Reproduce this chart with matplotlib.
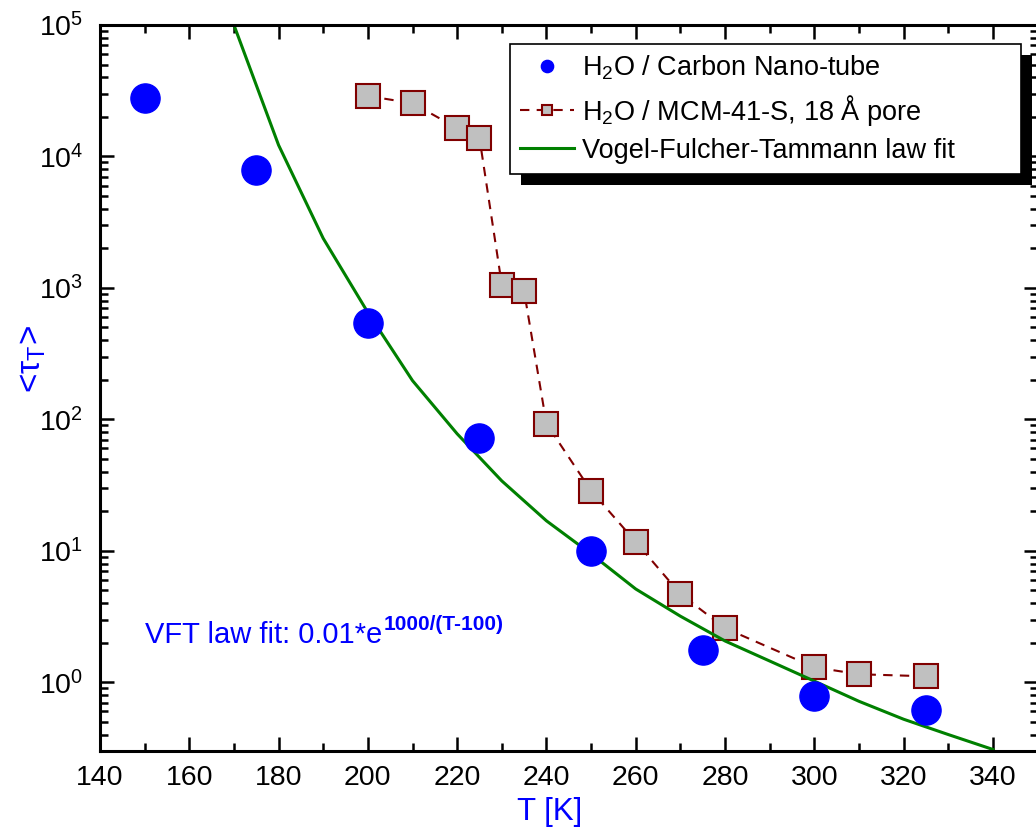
import numpy as np
import matplotlib
matplotlib.use('Agg')
import matplotlib.pyplot as plt
from matplotlib.patches import Rectangle
from matplotlib.ticker import MultipleLocator, LogLocator
from matplotlib.transforms import offset_copy

plt.rcParams['font.family'] = ['Liberation Sans', 'DejaVu Sans']
plt.rcParams['mathtext.fontset'] = 'custom'
plt.rcParams['mathtext.rm'] = 'Liberation Sans'
plt.rcParams['mathtext.it'] = 'Liberation Sans:italic'
plt.rcParams['mathtext.bf'] = 'Liberation Sans:bold'

# H2O in carbon nano-tube
T_cnt = [150, 175, 200, 225, 250, 275, 300, 325]
tau_cnt = [27800, 7850, 536, 72.4, 10.0, 1.75, 0.78, 0.62]

# H2O in MCM-41-S, 18 A pore
T_mcm = [200, 210, 220, 225, 230, 235, 240, 250, 260, 270, 280, 300, 310, 325]
tau_mcm = [28800, 25400, 16400, 13800, 1060, 940, 92.7, 28.6, 11.7, 4.69, 2.58, 1.30, 1.15, 1.11]

# VFT fit curve as drawn
T_fit = [170, 180, 190, 200, 210, 220, 230, 240, 250, 260, 270, 280, 290, 300, 310, 320, 330, 340]
tau_fit = [100000, 12200, 2380, 650, 197, 77.6, 34, 16.9, 9.47, 5.12, 3.18, 2.06, 1.45, 1.02,
           0.716, 0.523, 0.40, 0.308]

fig = plt.figure(figsize=(10.36, 8.32), dpi=100)
ax = fig.add_axes([0.0965, 0.0974, 0.905, 0.8726])

ax.plot(T_cnt, tau_cnt, 'o', color='blue', markersize=21, zorder=3,
        label=r'H$_2$O / Carbon Nano-tube')
ax.plot(T_mcm, tau_mcm, 's', linestyle='--', color='#800000', markerfacecolor='#c0c0c0',
        markeredgecolor='#800000', markersize=17, markeredgewidth=1.5, linewidth=1.5,
        dashes=(4.5, 3.5), zorder=2, label=r'H$_2$O / MCM-41-S, 18 Å pore')
ax.plot(T_fit, tau_fit, '-', color='#008000', linewidth=2.2, zorder=2.5,
        label='Vogel-Fulcher-Tammann law fit')

ax.set_yscale('log')
ax.set_xlim(140, 350)
ax.set_ylim(0.3, 1e5)
ax.set_xticks(np.arange(140, 341, 20))
ax.xaxis.set_minor_locator(MultipleLocator(10))
ax.yaxis.set_major_locator(LogLocator(base=10, numticks=10))
ax.yaxis.set_minor_locator(LogLocator(base=10, subs=np.arange(2, 10), numticks=20))

ax.tick_params(which='both', direction='in', top=True, right=True, width=1.8, labelsize=20.5)
ax.tick_params(which='major', length=10)
ax.tick_params(which='minor', length=5.5)
ax.tick_params(axis='x', pad=10)
ax.tick_params(axis='y', pad=12)
for sp in ax.spines.values():
    sp.set_linewidth(2.2)

ax.set_xlabel('T [K]', color='blue', fontsize=22.5)
ax.xaxis.set_label_coords(0.48, -0.064)
ax.set_ylabel('<τ$_\\mathrm{T}$>', color='blue', fontsize=24)
ax.yaxis.set_label_coords(-0.055, 0.54)

vft = ax.text(0.048, 0.149, 'VFT law fit: 0.01*e', color='blue',
              fontsize=21, transform=ax.transAxes, va='baseline')

leg = ax.legend(loc='upper left', bbox_to_anchor=(0.4373, 0.5, 0.545, 0.4738), mode='expand',
                borderaxespad=0, fontsize=19.5, fancybox=False, framealpha=1,
                edgecolor='black', markerscale=0.42, handlelength=2.0, handletextpad=0.3,
                labelspacing=0.38, borderpad=0.36)
leg.get_frame().set_linewidth(1.2)
leg.set_zorder(10)

fig.canvas.draw()

# bold superscript of the VFT formula, placed after the main text
eb = vft.get_window_extent()
x_sup, y_sup = ax.transAxes.inverted().transform((eb.x1 + 1, 0))[0], 0.149
ax.text(x_sup, y_sup, '1000/(T-100)', color='blue', fontsize=15, fontweight='bold',
        va='baseline', transform=offset_copy(ax.transAxes, fig=fig, y=9.5, units='points'))

# black drop shadow behind the legend box
bb = leg.get_window_extent()
shadow = Rectangle((bb.x0 + 11, bb.y0 - 11), bb.width, bb.height, transform=None,
                   facecolor='black', edgecolor='none', zorder=9)
ax.add_artist(shadow)

fig.savefig('out.png', dpi=100)
